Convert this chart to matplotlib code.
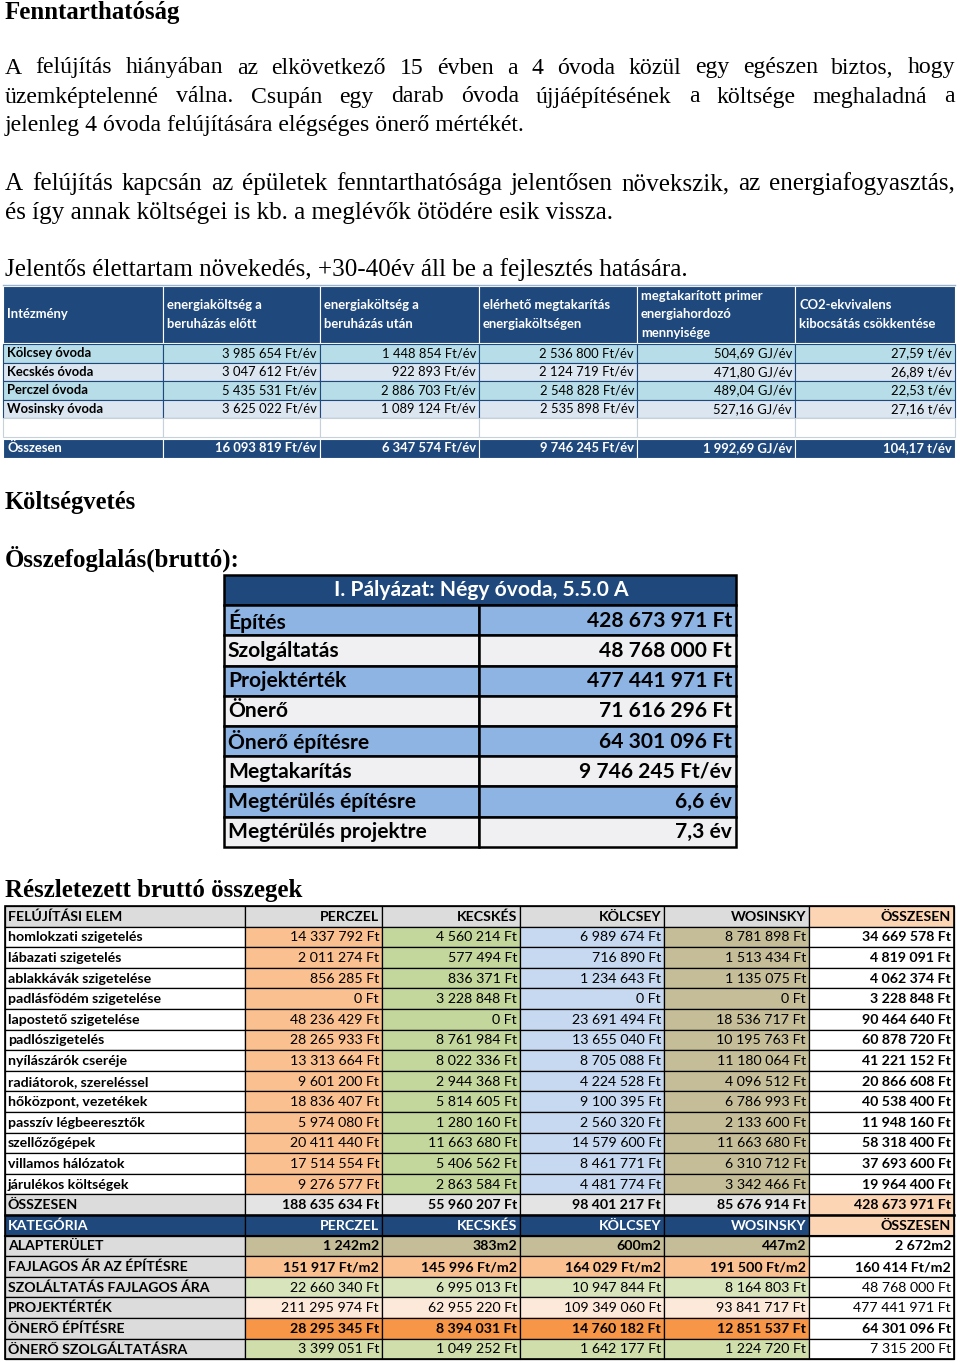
import matplotlib
matplotlib.use("Agg")
import matplotlib.pyplot as plt
from matplotlib.patches import Rectangle

# ---------------- DATA ----------------
heading1 = "Fenntarthatóság"
para1 = ["A felújítás hiányában az elkövetkező 15 évben a 4 óvoda közül egy egészen biztos, hogy",
         "üzemképtelenné válna. Csupán egy darab óvoda újjáépítésének a költsége meghaladná a",
         "jelenleg 4 óvoda felújítására elégséges önerő mértékét."]
para2 = ["A felújítás kapcsán az épületek fenntarthatósága jelentősen növekszik, az energiafogyasztás,",
         "és így annak költségei is kb. a meglévők ötödére esik vissza."]
para3 = "Jelentős élettartam növekedés, +30-40év áll be a fejlesztés hatására."
heading2 = "Költségvetés"
heading3 = "Összefoglalás(bruttó):"
heading4 = "Részletezett bruttó összegek"

t1_headers = [["Intézmény"],
              ["energiaköltség a", "beruházás előtt"],
              ["energiaköltség a", "beruházás után"],
              ["elérhető megtakarítás", "energiaköltségen"],
              ["megtakarított primer", "energiahordozó", "mennyisége"],
              ["CO2-ekvivalens", "kibocsátás csökkentése"]]
institutions = ["Kölcsey óvoda", "Kecskés óvoda", "Perczel óvoda", "Wosinsky óvoda"]
cost_before = [3985654, 3047612, 5435531, 3625022]
cost_after = [1448854, 922893, 2886703, 1089124]
saving = [2536800, 2124719, 2548828, 2535898]
primary_gj = [504.69, 471.80, 489.04, 527.16]
co2_t = [27.59, 26.89, 22.53, 27.16]
t1_total_label = "Összesen"
t1_totals = [16093819, 6347574, 9746245, 1992.69, 104.17]

summary_title = "I. Pályázat: Négy óvoda, 5.5.0 A"
summary_labels = ["Építés", "Szolgáltatás", "Projektérték", "Önerő", "Önerő építésre",
                  "Megtakarítás", "Megtérülés építésre", "Megtérülés projektre"]
summary_values = ["428 673 971 Ft", "48 768 000 Ft", "477 441 971 Ft", "71 616 296 Ft",
                  "64 301 096 Ft", "9 746 245 Ft/év", "6,6 év", "7,3 év"]

t3_columns = ["FELÚJÍTÁSI ELEM", "PERCZEL", "KECSKÉS", "KÖLCSEY", "WOSINSKY", "ÖSSZESEN"]
items = ["homlokzati szigetelés", "lábazati szigetelés", "ablakkávák szigetelése",
         "padlásfödém szigetelése", "lapostető szigetelése", "padlószigetelés",
         "nyílászárók cseréje", "radiátorok, szereléssel", "hőközpont, vezetékek",
         "passzív légbeeresztők", "szellőzőgépek", "villamos hálózatok", "járulékos költségek"]
perczel = [14337792, 2011274, 856285, 0, 48236429, 28265933, 13313664, 9601200,
           18836407, 5974080, 20411440, 17514554, 9276577]
kecskes = [4560214, 577494, 836371, 3228848, 0, 8761984, 8022336, 2944368,
           5814605, 1280160, 11663680, 5406562, 2863584]
kolcsey = [6989674, 716890, 1234643, 0, 23691494, 13655040, 8705088, 4224528,
           9100395, 2560320, 14579600, 8461771, 4481774]
wosinsky = [8781898, 1513434, 1135075, 0, 18536717, 10195763, 11180064, 4096512,
            6786993, 2133600, 11663680, 6310712, 3342466]
item_totals = [34669578, 4819091, 4062374, 3228848, 90464640, 60878720, 41221152,
               20866608, 40538400, 11948160, 58318400, 37693600, 19964400]
sum_label = "ÖSSZESEN"
sum_values = [188635634, 55960207, 98401217, 85676914, 428673971]

cat_header = ["KATEGÓRIA", "PERCZEL", "KECSKÉS", "KÖLCSEY", "WOSINSKY", "ÖSSZESEN"]
cat_labels = ["ALAPTERÜLET", "FAJLAGOS ÁR AZ ÉPÍTÉSRE", "SZOLÁLTATÁS FAJLAGOS ÁRA",
              "PROJEKTÉRTÉK", "ÖNERŐ ÉPÍTÉSRE", "ÖNERŐ SZOLGÁLTATÁSRA"]
area_m2 = [1242, 383, 600, 447, 2672]
unit_price = [151917, 145996, 164029, 191500, 160414]
service_price = [22660340, 6995013, 10947844, 8164803, 48768000]
project_value = [211295974, 62955220, 109349060, 93841717, 477441971]
own_build = [28295345, 8394031, 14760182, 12851537, 64301096]
own_service = [3399051, 1049252, 1642177, 1224720, 7315200]


def grp(n):
    return f"{n:,}".replace(",", " ")


def dec(x):
    return f"{x:,.2f}".replace(",", " ").replace(".", ",")


# ---------------- FIGURE ----------------
W, H = 960, 1362
fig = plt.figure(figsize=(9.6, 13.62), dpi=100)
fig.patch.set_facecolor("white")
ax = fig.add_axes([0, 0, 1, 1])
ax.set_xlim(0, W)
ax.set_ylim(H, 0)
ax.axis("off")
R = fig.canvas.get_renderer()

SERIF = ["Liberation Serif", "DejaVu Serif"]
SANS = ["Lato", "DejaVu Sans"]


def measure(s, size, family, weight="normal"):
    t = ax.text(0, 0, s, fontsize=size, family=family, weight=weight)
    w = t.get_window_extent(R).width
    t.remove()
    return w


def fit(s, width, family, weight="normal"):
    return 10 * width / measure(s, 10, family, weight)


def justify(line, x0, x1, y, size, family, weight="normal"):
    words = line.split(" ")
    objs = [ax.text(0, y, w, fontsize=size, family=family, weight=weight,
                    va="center", ha="left", color="black") for w in words]
    widths = [o.get_window_extent(R).width for o in objs]
    gap = (x1 - x0 - sum(widths)) / (len(words) - 1)
    x = x0
    for o, w in zip(objs, widths):
        o.set_x(x)
        x += w + gap


def txt(x, y, s, size, family=SANS, weight="normal", ha="left", color="black"):
    ax.text(x, y, s, fontsize=size, family=family, weight=weight, ha=ha,
            va="center", color=color)


def cell(x0, y0, x1, y1, fc, ec="black", lw=0.8):
    ax.add_patch(Rectangle((x0, y0), x1 - x0, y1 - y0, facecolor=fc,
                           edgecolor=ec, linewidth=lw))


# ---------------- TEXT BLOCKS ----------------
hs = fit(heading1, 176, SERIF, "bold")
txt(5, 12, heading1, hs, SERIF, "bold")

p1s = fit(para1[2], 520, SERIF)
justify(para1[0], 5, 955, 68, p1s, SERIF)
justify(para1[1], 5, 955, 97, p1s, SERIF)
txt(5, 126, para1[2], p1s, SERIF)

p2s = fit(para2[1], 608, SERIF)
justify(para2[0], 5, 955, 184, p2s, SERIF)
txt(5, 213, para2[1], p2s, SERIF)
txt(5, 270, para3, p2s, SERIF)

txt(5, 502, heading2, fit(heading2, 132, SERIF, "bold"), SERIF, "bold")
txt(5, 559, heading3, fit(heading3, 236, SERIF, "bold"), SERIF, "bold")
txt(5, 891, heading4, fit(heading4, 299, SERIF, "bold"), SERIF, "bold")

# ---------------- TABLE 1 ----------------
NAVY = "#1F497D"
t1x = [3, 163, 320, 479, 637, 795, 955]
t1_row_fc = ["#B7DEE8", "#DCE6F1", "#B7DEE8", "#DCE6F1"]
ax.plot([3, 955], [284.5, 284.5], color="#9DB3CC", lw=1)
# header
for c in range(6):
    cell(t1x[c], 286, t1x[c + 1], 343, NAVY, ec="white", lw=0.8)
s1h = fit("energiaköltség a", 95, SANS, "bold")
for c, lines in enumerate(t1_headers):
    n = len(lines)
    for k, ln in enumerate(lines):
        yy = 314.5 + (k - (n - 1) / 2) * 18.5
        txt(t1x[c] + 4, yy, ln, s1h, SANS, "bold", color="white")
s1 = fit("Kölcsey óvoda", 85, SANS, "bold")
cols = [cost_before, cost_after, saving, primary_gj, co2_t]
fmts = [lambda v: grp(v) + " Ft/év"] * 3 + [lambda v: dec(v) + " GJ/év",
                                            lambda v: dec(v) + " t/év"]
rh1 = 18.5
for i, name in enumerate(institutions):
    y0 = 344 + i * rh1
    for c in range(6):
        cell(t1x[c], y0, t1x[c + 1], y0 + rh1, t1_row_fc[i], ec=NAVY, lw=0.8)
    yc = y0 + rh1 / 2
    txt(t1x[0] + 4, yc, name, s1, SANS, "bold")
    for c in range(5):
        txt(t1x[c + 2] - 3, yc, fmts[c](cols[c][i]), s1, SANS, ha="right")
# empty row
y0 = 344 + 4 * rh1
for c in range(6):
    cell(t1x[c], y0, t1x[c + 1], y0 + rh1, "white", ec="#C8D0DA", lw=0.8)
# total row
y0 = 438.5
for c in range(6):
    cell(t1x[c], y0, t1x[c + 1], y0 + 19, NAVY, ec="white", lw=0.8)
txt(t1x[0] + 4, y0 + 9.5, t1_total_label, s1, SANS, "bold", color="white")
for c in range(5):
    txt(t1x[c + 2] - 3, y0 + 9.5, fmts[c](t1_totals[c]), s1, SANS, "bold",
        ha="right", color="white")

# ---------------- TABLE 2 ----------------
t2x0, t2xm, t2x1 = 224, 479, 736
t2y0, t2rh = 575, 30.2
cell(t2x0, t2y0, t2x1, t2y0 + t2rh, NAVY, ec="black", lw=1.8)
s2 = fit("Megtérülés projektre", 199, SANS, "bold")
txt((t2x0 + t2x1) / 2 + 1, t2y0 + t2rh / 2, summary_title, s2, SANS, "bold",
    ha="center", color="white")
for i, (lab, val) in enumerate(zip(summary_labels, summary_values)):
    y0 = t2y0 + (i + 1) * t2rh
    fc = "#8DB4E2" if i % 2 == 0 else "#F0F0F2"
    cell(t2x0, y0, t2xm, y0 + t2rh, fc, lw=1.8)
    cell(t2xm, y0, t2x1, y0 + t2rh, fc, lw=1.8)
    txt(t2x0 + 4, y0 + t2rh / 2 + 0.5, lab, s2, SANS, "bold")
    txt(t2x1 - 4, y0 + t2rh / 2 + 0.5, val, s2, SANS, "bold", ha="right")

# ---------------- TABLE 3 ----------------
t3x = [5, 245, 382, 520, 664, 809, 954]
t3y0, rh3 = 906, 20.6
s3 = fit("homlokzati szigetelés", 135, SANS, "bold")
ORANGE, GREEN, BLUE, TAN = "#FAC090", "#C3D69B", "#C6D9F0", "#C4BD97"
GREY, PEACH = "#DCDCDC", "#FCD5B4"


def row3(r, texts, fcs, weights, colors=None):
    y0 = t3y0 + r * rh3
    for c in range(6):
        cell(t3x[c], y0, t3x[c + 1], y0 + rh3, fcs[c], lw=0.9)
    for c in range(6):
        col = colors[c] if colors else "black"
        if c == 0:
            txt(t3x[0] + 3, y0 + rh3 / 2 + 0.5, texts[0], s3, SANS, weights[0], color=col)
        else:
            txt(t3x[c + 1] - 3, y0 + rh3 / 2 + 0.5, texts[c], s3, SANS, weights[c],
                ha="right", color=col)


row3(0, t3_columns, [GREY] * 5 + [PEACH], ["bold"] * 6)
for i, it in enumerate(items):
    vals = [perczel[i], kecskes[i], kolcsey[i], wosinsky[i], item_totals[i]]
    row3(i + 1, [it] + [grp(v) + " Ft" for v in vals],
         ["white", ORANGE, GREEN, BLUE, TAN, "white"],
         ["bold", "normal", "normal", "normal", "normal", "bold"])
row3(14, [sum_label] + [grp(v) + " Ft" for v in sum_values],
     [GREY, "#E4E4E4", "#E4E4E4", "#E4E4E4", "#E4E4E4", PEACH], ["bold"] * 6)
row3(15, cat_header, [NAVY] * 5 + [PEACH], ["bold"] * 6,
     colors=["white"] * 5 + ["black"])
cat_values = [[grp(v) + "m2" for v in area_m2],
              [grp(v) + " Ft/m2" for v in unit_price],
              [grp(v) + " Ft" for v in service_price],
              [grp(v) + " Ft" for v in project_value],
              [grp(v) + " Ft" for v in own_build],
              [grp(v) + " Ft" for v in own_service]]
cat_fc = [TAN, ORANGE, "#D8E4BC", "#FDE9D9", "#F79646", "#CFDEAB"]
cat_w = ["bold", "bold", "normal", "normal", "bold", "normal"]
for k, lab in enumerate(cat_labels):
    row3(16 + k, [lab] + cat_values[k], [GREY] + [cat_fc[k]] * 4 + ["white"],
         ["bold"] + [cat_w[k]] * 5)
yb = t3y0 + 15 * rh3
ax.plot([5, 954], [yb, yb], color="black", lw=1.8)
ax.plot([5, 954], [yb + rh3, yb + rh3], color="black", lw=1.5)
ax.add_patch(Rectangle((5, t3y0), 949, 22 * rh3, fill=False, edgecolor="black", lw=1.2))

fig.savefig("out.png", dpi=100, facecolor="white")
